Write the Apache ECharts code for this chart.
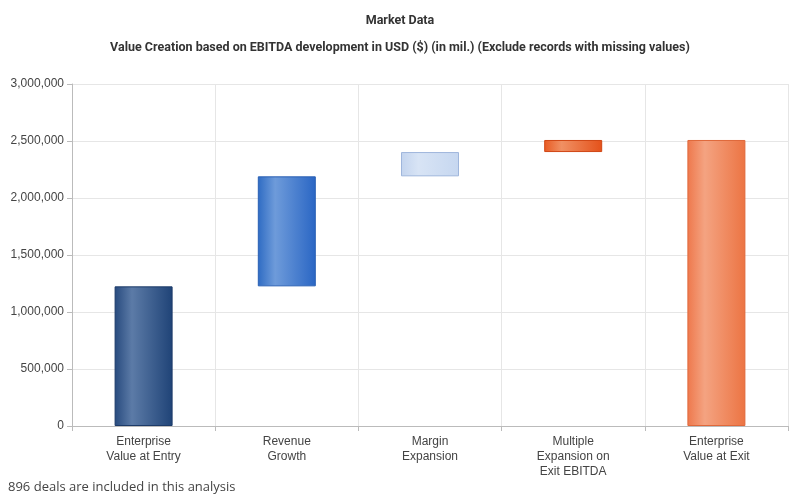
<!DOCTYPE html>
<html>
<head>
<meta charset="utf-8">
<script src="https://cdn.jsdelivr.net/npm/echarts@6/dist/echarts.min.js"></script>
<style>
html,body{margin:0;padding:0;background:#fff;}
#chart{width:800px;height:501px;}
</style>
</head>
<body>
<div id="chart"></div>
<script>
var categories = ['Enterprise\nValue at Entry', 'Revenue\nGrowth', 'Margin\nExpansion', 'Multiple\nExpansion on\nExit EBITDA', 'Enterprise\nValue at Exit'];
var stepValues = [1225000, 965000, 213000, 106000, 2509000];
var isTotal = [true, false, false, false, true];
var yTicks = [0, 500000, 1000000, 1500000, 2000000, 2500000, 3000000];
var barColors = [
  ['#274a7e', '#5c7ba7', '#1f4377', '#1c3a68'],
  ['#2e6bc3', '#6e9bda', '#2a66c4', '#2a60b4'],
  ['#c3d4ee', '#d8e4f5', '#c6d7f0', '#9fb6dc'],
  ['#e85a22', '#f09063', '#e4511a', '#d04614'],
  ['#ee784c', '#f4a381', '#ec7443', '#e0683a']
];

var base = [], vis = [], running = 0;
for (var i = 0; i < stepValues.length; i++) {
  var c = barColors[i];
  var style = {
    color: new echarts.graphic.LinearGradient(0, 0, 1, 0, [
      {offset: 0, color: c[0]}, {offset: 0.3, color: c[1]}, {offset: 1, color: c[2]}
    ]),
    borderColor: c[3], borderWidth: 1
  };
  if (isTotal[i]) { base.push(0); running = stepValues[i]; }
  else { base.push(running); running += stepValues[i]; }
  vis.push({value: stepValues[i], itemStyle: style});
}

var chart = echarts.init(document.getElementById('chart'));
chart.setOption({
  animation: false,
  title: [
    {text: 'Market Data', left: 'center', top: 9, textStyle: {fontFamily: 'Roboto', fontSize: 12.5, fontWeight: 'bold', color: '#333'}},
    {text: 'Value Creation based on EBITDA development in USD ($) (in mil.) (Exclude records with missing values)', left: 'center', top: 36, textStyle: {fontFamily: 'Roboto', fontSize: 12.5, fontWeight: 'bold', color: '#333'}},
    {text: '896 deals are included in this analysis', left: 3, top: 476, textStyle: {fontFamily: 'Open Sans', fontSize: 13, fontWeight: 'normal', color: '#444'}}
  ],
  grid: {left: 72, right: 12, top: 84, bottom: 75},
  xAxis: {
    type: 'category', data: categories,
    axisLine: {lineStyle: {color: '#bbb'}},
    axisTick: {show: true, length: 5, lineStyle: {color: '#bbb'}},
    splitLine: {show: true, lineStyle: {color: '#e6e6e6'}},
    axisLabel: {fontFamily: 'Liberation Sans', fontSize: 12, color: '#444', lineHeight: 15, margin: 8, interval: 0}
  },
  yAxis: {
    type: 'value', min: 0, max: 3000000, interval: 500000,
    axisLine: {show: true, lineStyle: {color: '#bbb'}},
    axisTick: {show: true, length: 5, lineStyle: {color: '#bbb'}},
    splitLine: {lineStyle: {color: '#e6e6e6'}},
    axisLabel: {fontFamily: 'Liberation Sans', fontSize: 12, color: '#444', margin: 8,
      formatter: function (v) { return v.toLocaleString('en-US'); }}
  },
  series: [
    {type: 'bar', stack: 'w', data: base, barWidth: 58, itemStyle: {color: 'transparent'}, silent: true},
    {type: 'bar', stack: 'w', data: vis, barWidth: 58}
  ]
});
</script>
</body>
</html>
